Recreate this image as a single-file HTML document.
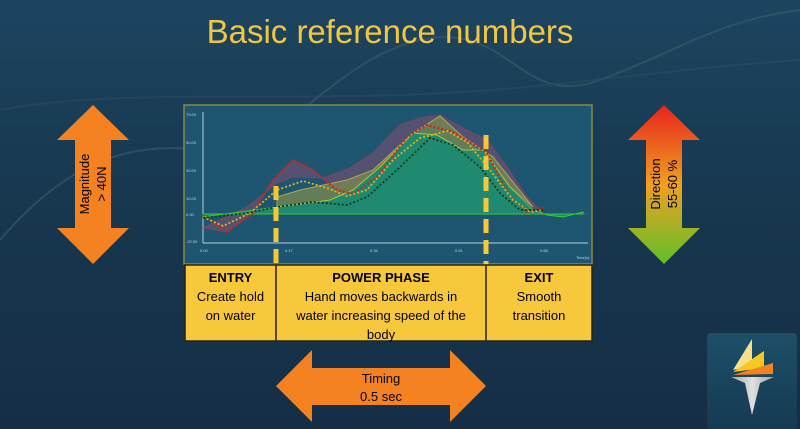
<!DOCTYPE html>
<html><head><style>
body{margin:0;width:800px;height:429px;overflow:hidden;background:linear-gradient(180deg,#1d4560 0%,#17384f 45%,#152e45 100%);font-family:"Liberation Sans",sans-serif;position:relative}
.t{position:absolute;text-align:center;color:#000}
</style></head><body>
<svg width="800" height="429" style="position:absolute;left:0;top:0">
<defs><linearGradient id="g" x1="0" y1="0" x2="0" y2="1"><stop offset="0" stop-color="#e8241e"/><stop offset="0.5" stop-color="#f0a020"/><stop offset="1" stop-color="#60c02a"/></linearGradient>
<linearGradient id="lg" x1="0" y1="0" x2="0" y2="1"><stop offset="0" stop-color="#1c5068"/><stop offset="1" stop-color="#163a52"/></linearGradient>
<linearGradient id="tg" x1="0" y1="0" x2="1" y2="0"><stop offset="0" stop-color="#a8a8a8"/><stop offset="0.5" stop-color="#e0e0e0"/><stop offset="1" stop-color="#a0a0a0"/></linearGradient></defs>
<path d="M0,240 C60,170 120,140 200,150 S330,60 420,40 S520,110 600,80 S720,20 800,10" stroke="#3a5e6a" stroke-width="2" fill="none" opacity="0.6"/>
<path d="M0,110 C100,90 250,100 400,95 S650,70 800,60" stroke="#2b4d60" stroke-width="2" fill="none" opacity="0.6"/>
<text x="390" y="43" font-size="33" fill="#f2c640" text-anchor="middle" font-family="Liberation Sans">Basic reference numbers</text>
<polygon points="93,105 129,140 111,140 111,228 129,228 93,264 57,228 75,228 75,140 57,140" fill="#f58220"/>
<polygon points="664,105 700,140 682,140 682,228 700,228 664,264 628,228 646,228 646,140 628,140" fill="url(#g)"/>
<polygon points="276,386 312,350 312,368 450,368 450,350 486,386 450,422 450,405 312,405 312,422" fill="#f58220"/>
<rect x="184" y="105" width="408" height="159" fill="#1e5672" stroke="#8a8a40" stroke-width="1.5"/>
<line x1="203" y1="243" x2="588" y2="243" stroke="#bcd" stroke-width="1"/>
<line x1="203" y1="112" x2="203" y2="243" stroke="#bcd" stroke-width="1"/>
<g font-size="4" fill="#ccd">
<text x="186" y="116">70.00</text><text x="186" y="144">50.00</text><text x="186" y="172">30.00</text><text x="186" y="200">10.00</text><text x="186" y="216">0.00</text><text x="186" y="243">-20.00</text>
<text x="200" y="252">0.00</text><text x="285" y="252">0.17</text><text x="370" y="252">0.34</text><text x="455" y="252">0.51</text><text x="540" y="252">0.68</text><text x="576" y="259">Time(s)</text></g>
<line x1="203" y1="214" x2="588" y2="214" stroke="#2a6a80" stroke-width="1"/>
<polygon points="203,228 247,207 277,183 293,177 323,178 350,168 373,153 400,125 420,118 440,115 463,128 487,140 507,167 527,197 543,213 527,212 510,197 487,153 453,132 427,125 407,137 377,177 353,194 337,190 313,170 293,160 273,180 253,213 227,232" fill="#5e5272" opacity="0.85" stroke="#a04050" stroke-width="0.8"/>
<polygon points="203,217 277,207 330,200 353,190 380,167 413,133 437,135 463,150 483,150 510,187 533,210 547,215 563,217 583,212 583,214 203,214" fill="#1f8a70" stroke="#3c3" stroke-width="1"/>
<polygon points="277,197 300,190 347,180 373,170 413,133 440,116 463,137 493,157 533,207 510,187 483,150 463,150 437,135 413,133 380,167 353,190 330,200 277,207" fill="#7a8a50" opacity="0.75" stroke="#d8c040" stroke-width="1"/>
<polyline points="203,215 227,232 253,213 273,180 293,160 313,170 337,190 353,194 377,177 407,137 427,125 453,132 487,153 510,197 527,212 543,208" fill="none" stroke="#d02018" stroke-width="2" stroke-dasharray="2,2"/>
<polyline points="203,217 223,226 250,213 277,190 303,181 327,188 347,196 367,190 393,160 420,138 447,131 467,142 490,170 513,200 530,212 543,210" fill="none" stroke="#e0b020" stroke-width="1.8" stroke-dasharray="2,2"/>
<polyline points="203,218 247,213 277,207 313,202 347,205 367,197 397,170 430,138 453,145 480,167 500,193 520,210 543,210" fill="none" stroke="#0a3a20" stroke-width="1.8" stroke-dasharray="2,2"/>
<line x1="276" y1="186" x2="276" y2="265" stroke="#f8c838" stroke-width="5" stroke-dasharray="14,7"/>
<line x1="486" y1="135" x2="486" y2="265" stroke="#f8c838" stroke-width="5" stroke-dasharray="14,7"/>
<rect x="185" y="265" width="407" height="76" fill="#f8c83c" stroke="#222" stroke-width="1.5"/>
<line x1="276" y1="265" x2="276" y2="341" stroke="#222" stroke-width="1.5"/>
<line x1="486" y1="265" x2="486" y2="341" stroke="#222" stroke-width="1.5"/>
<rect x="707" y="333" width="90" height="96" rx="4" fill="url(#lg)"/>
<polygon points="752,339 752,366 733,370" fill="#f8e08a"/>
<polygon points="764,351 764,368 733,372" fill="#f8c820"/>
<polygon points="773,363 773,374 733,375" fill="#f58220"/>
<polygon points="731,377 774,377 760,383 752,415 745,383" fill="url(#tg)"/>
</svg>
<div style="position:absolute;left:93px;top:184px;transform:translate(-50%,-50%) rotate(-90deg);font-size:13px;text-align:center;line-height:17px;white-space:nowrap">Magnitude<br>&gt; 40N</div>
<div style="position:absolute;left:664px;top:184px;transform:translate(-50%,-50%) rotate(-90deg);font-size:13px;text-align:center;line-height:17px;white-space:nowrap">Direction<br>55-60 %</div>
<div class="t" style="left:185px;width:91px;top:268px;font-size:13px;line-height:19px"><b>ENTRY</b><br>Create hold<br>on water</div>
<div class="t" style="left:276px;width:210px;top:268px;font-size:13px;line-height:19px"><b>POWER PHASE</b><br>Hand moves backwards in<br>water increasing speed of the<br>body</div>
<div class="t" style="left:486px;width:106px;top:268px;font-size:13px;line-height:19px"><b>EXIT</b><br>Smooth<br>transition</div>
<div class="t" style="left:276px;width:210px;top:370px;font-size:13px;line-height:18px">Timing<br>0.5 sec</div>
</body></html>
